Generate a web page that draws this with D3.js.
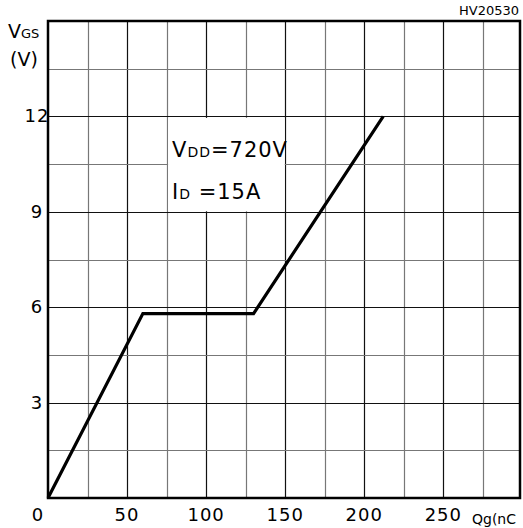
<!DOCTYPE html>
<html>
<head>
<meta charset="utf-8">
<script src="https://cdn.jsdelivr.net/npm/d3@7"></script>
<style>
body { margin:0; background:#fff; }
text { font-family: "DejaVu Sans", sans-serif; fill:#000; }
</style>
</head>
<body>
<svg id="chart"></svg>
<script>
// gate charge curve
var qg  = [0, 60, 130, 212];
var vgs = [0, 5.8, 5.8, 12];
var xTicks = [0, 50, 100, 150, 200, 250];
var yTicks = [3, 6, 9, 12];
var xGrid = d3.range(25, 300, 25);
var yGrid = d3.range(1.5, 15, 1.5);

var screen = {width:523, height:528};
var plot = {left:48, right:520, top:21, bottom:498};

var svg = d3.select("#chart")
    .attr("width", screen.width)
    .attr("height", screen.height);

var xScale = d3.scaleLinear()
    .domain([0, 298.5])
    .range([plot.left, plot.right]);

var yScale = d3.scaleLinear()
    .domain([0, 15])
    .range([plot.bottom, plot.top]);

var grid = svg.append("g").classed("grid", true);

grid.selectAll("line.v")
    .data(xGrid)
    .enter()
    .append("line")
    .attr("x1", function(d) { return Math.round(xScale(d)) + 0.5; })
    .attr("x2", function(d) { return Math.round(xScale(d)) + 0.5; })
    .attr("y1", plot.top)
    .attr("y2", plot.bottom)
    .attr("stroke", function(d) { return d % 50 == 0 ? "#111" : "#777"; })
    .attr("stroke-width", 1.2);

grid.selectAll("line.h")
    .data(yGrid)
    .enter()
    .append("line")
    .attr("y1", function(d) { return Math.round(yScale(d)) + 0.5; })
    .attr("y2", function(d) { return Math.round(yScale(d)) + 0.5; })
    .attr("x1", plot.left)
    .attr("x2", plot.right)
    .attr("stroke", function(d) { return d % 3 == 0 ? "#111" : "#777"; })
    .attr("stroke-width", 1.2);

// white box behind the annotation (covers the cells 75..150 x 9..12)
svg.append("rect")
    .attr("x", xScale(75) + 1.5)
    .attr("y", yScale(12) + 1.5)
    .attr("width", xScale(150) - xScale(75) - 2)
    .attr("height", yScale(9) - yScale(12) - 2)
    .attr("fill", "#fff");

// frame
svg.append("rect")
    .attr("x", plot.left)
    .attr("y", plot.top)
    .attr("width", plot.right - plot.left)
    .attr("height", plot.bottom - plot.top)
    .attr("fill", "none")
    .attr("stroke", "#000")
    .attr("stroke-width", 2.5);

var line = d3.line()
    .x(function(d, i) { return xScale(qg[i]); })
    .y(function(d, i) { return yScale(vgs[i]); });

svg.append("path")
    .datum(qg)
    .attr("d", line)
    .attr("fill", "none")
    .attr("stroke", "#000")
    .attr("stroke-width", 3.2)
    .attr("stroke-linejoin", "miter");

var labels = svg.append("g").classed("labels", true);

labels.selectAll("text.x")
    .data(xTicks)
    .enter()
    .append("text")
    .attr("x", function(d) { return d == 0 ? xScale(d) - 10 : xScale(d); })
    .attr("y", 521)
    .attr("text-anchor", "middle")
    .attr("font-size", 18)
    .attr("letter-spacing", 1)
    .text(function(d) { return d; });

labels.selectAll("text.y")
    .data(yTicks)
    .enter()
    .append("text")
    .attr("x", 37)
    .attr("y", function(d) { return yScale(d) + 6; })
    .attr("text-anchor", "middle")
    .attr("font-size", 18)
    .attr("letter-spacing", 1)
    .text(function(d) { return d; });

var yLab = labels.append("text")
    .attr("x", 8)
    .attr("y", 38)
    .attr("font-size", 19);
yLab.append("tspan").text("V");
yLab.append("tspan").attr("font-size", 13).text("GS");

labels.append("text")
    .attr("x", 10)
    .attr("y", 66)
    .attr("font-size", 19)
    .text("(V)");

labels.append("text")
    .attr("x", 472)
    .attr("y", 524)
    .attr("font-size", 14)
    .text("Qg(nC");

labels.append("text")
    .attr("x", 519)
    .attr("y", 15)
    .attr("text-anchor", "end")
    .attr("font-size", 13)
    .text("HV20530");

var note1 = labels.append("text")
    .attr("x", 172)
    .attr("y", 157)
    .attr("font-size", 21)
    .attr("letter-spacing", 1);
note1.append("tspan").text("V");
note1.append("tspan").attr("font-size", 14).text("DD");
note1.append("tspan").text("=720V");

var note2 = labels.append("text")
    .attr("x", 172)
    .attr("y", 199)
    .attr("font-size", 21)
    .attr("letter-spacing", 1);
note2.append("tspan").text("I");
note2.append("tspan").attr("font-size", 14).text("D");
note2.append("tspan").text(" =15A");
</script>
</body>
</html>
